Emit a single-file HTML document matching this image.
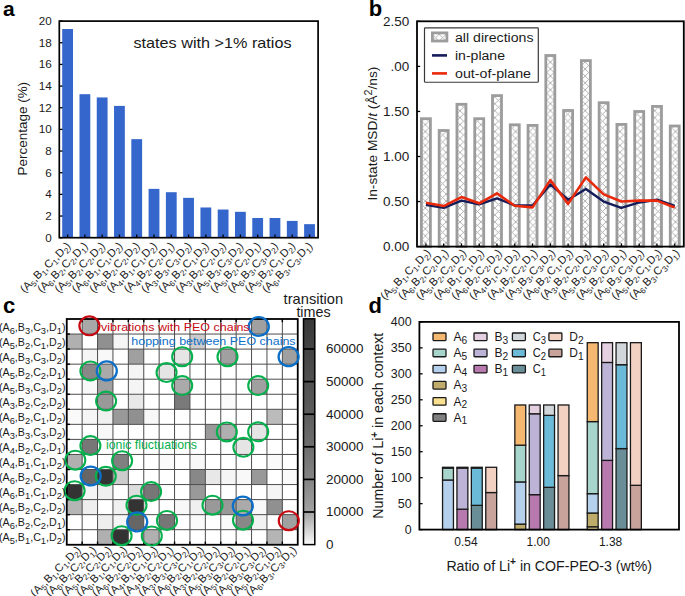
<!DOCTYPE html><html><head><meta charset="utf-8"><style>html,body{margin:0;padding:0;background:#fff;} svg{display:block;} text{font-family:"Liberation Sans", sans-serif;fill:#1a1a1a;}</style></head><body>
<svg width="685" height="596" viewBox="0 0 685 596">
<defs><pattern id="hatch" patternUnits="userSpaceOnUse" x="1.35" y="-0.5" width="6.95" height="6.95"><rect width="6.95" height="6.95" fill="#fff"/><path d="M0,0 L6.95,6.95 M6.95,0 L0,6.95 M-3.475,3.475 L3.475,10.425 M3.475,-3.475 L10.425,3.475 M3.475,-3.475 L-3.475,3.475 M10.425,3.475 L3.475,10.425" stroke="#a9a9a9" stroke-width="0.9" fill="none"/></pattern><linearGradient id="cbar" x1="0" y1="1" x2="0" y2="0"><stop offset="0" stop-color="#fafafa"/><stop offset="0.144" stop-color="#a2a2a2"/><stop offset="0.289" stop-color="#848484"/><stop offset="0.433" stop-color="#6e6e6e"/><stop offset="0.577" stop-color="#5d5d5d"/><stop offset="0.722" stop-color="#505050"/><stop offset="0.866" stop-color="#444444"/><stop offset="1" stop-color="#383838"/></linearGradient></defs>
<rect width="685" height="596" fill="#fff"/>
<rect x="62.20" y="29.01" width="10.8" height="208.69" fill="#3466cc"/>
<rect x="79.48" y="94.20" width="10.8" height="143.50" fill="#3466cc"/>
<rect x="96.76" y="97.45" width="10.8" height="140.25" fill="#3466cc"/>
<rect x="114.04" y="105.90" width="10.8" height="131.80" fill="#3466cc"/>
<rect x="131.32" y="139.15" width="10.8" height="98.55" fill="#3466cc"/>
<rect x="148.60" y="188.86" width="10.8" height="48.84" fill="#3466cc"/>
<rect x="165.88" y="192.21" width="10.8" height="45.49" fill="#3466cc"/>
<rect x="183.16" y="197.85" width="10.8" height="39.85" fill="#3466cc"/>
<rect x="200.44" y="207.48" width="10.8" height="30.22" fill="#3466cc"/>
<rect x="217.72" y="209.54" width="10.8" height="28.16" fill="#3466cc"/>
<rect x="235.00" y="211.82" width="10.8" height="25.88" fill="#3466cc"/>
<rect x="252.28" y="217.99" width="10.8" height="19.71" fill="#3466cc"/>
<rect x="269.56" y="217.99" width="10.8" height="19.71" fill="#3466cc"/>
<rect x="286.84" y="220.91" width="10.8" height="16.79" fill="#3466cc"/>
<rect x="304.12" y="224.16" width="10.8" height="13.54" fill="#3466cc"/>
<rect x="59.3" y="21.1" width="258.80" height="216.60" fill="none" stroke="#000" stroke-width="1.7"/>
<line x1="59.3" y1="237.70" x2="62.5" y2="237.70" stroke="#000" stroke-width="1.3"/>
<text x="51.85" y="241.60" text-anchor="end" font-size="10.8" textLength="6.5" lengthAdjust="spacingAndGlyphs">0</text>
<line x1="59.3" y1="216.04" x2="62.5" y2="216.04" stroke="#000" stroke-width="1.3"/>
<text x="51.85" y="219.94" text-anchor="end" font-size="10.8" textLength="6.5" lengthAdjust="spacingAndGlyphs">2</text>
<line x1="59.3" y1="194.38" x2="62.5" y2="194.38" stroke="#000" stroke-width="1.3"/>
<text x="51.85" y="198.28" text-anchor="end" font-size="10.8" textLength="6.5" lengthAdjust="spacingAndGlyphs">4</text>
<line x1="59.3" y1="172.72" x2="62.5" y2="172.72" stroke="#000" stroke-width="1.3"/>
<text x="51.85" y="176.62" text-anchor="end" font-size="10.8" textLength="6.5" lengthAdjust="spacingAndGlyphs">6</text>
<line x1="59.3" y1="151.06" x2="62.5" y2="151.06" stroke="#000" stroke-width="1.3"/>
<text x="51.85" y="154.96" text-anchor="end" font-size="10.8" textLength="6.5" lengthAdjust="spacingAndGlyphs">8</text>
<line x1="59.3" y1="129.40" x2="62.5" y2="129.40" stroke="#000" stroke-width="1.3"/>
<text x="51.85" y="133.30" text-anchor="end" font-size="10.8" textLength="13.0" lengthAdjust="spacingAndGlyphs">10</text>
<line x1="59.3" y1="107.74" x2="62.5" y2="107.74" stroke="#000" stroke-width="1.3"/>
<text x="51.85" y="111.64" text-anchor="end" font-size="10.8" textLength="13.0" lengthAdjust="spacingAndGlyphs">12</text>
<line x1="59.3" y1="86.08" x2="62.5" y2="86.08" stroke="#000" stroke-width="1.3"/>
<text x="51.85" y="89.98" text-anchor="end" font-size="10.8" textLength="13.0" lengthAdjust="spacingAndGlyphs">14</text>
<line x1="59.3" y1="64.42" x2="62.5" y2="64.42" stroke="#000" stroke-width="1.3"/>
<text x="51.85" y="68.32" text-anchor="end" font-size="10.8" textLength="13.0" lengthAdjust="spacingAndGlyphs">16</text>
<line x1="59.3" y1="42.76" x2="62.5" y2="42.76" stroke="#000" stroke-width="1.3"/>
<text x="51.85" y="46.66" text-anchor="end" font-size="10.8" textLength="13.0" lengthAdjust="spacingAndGlyphs">18</text>
<line x1="59.3" y1="21.10" x2="62.5" y2="21.10" stroke="#000" stroke-width="1.3"/>
<text x="51.85" y="25.00" text-anchor="end" font-size="10.8" textLength="13.0" lengthAdjust="spacingAndGlyphs">20</text>
<line x1="67.60" y1="237.7" x2="67.60" y2="234.5" stroke="#000" stroke-width="1.3"/>
<line x1="84.88" y1="237.7" x2="84.88" y2="234.5" stroke="#000" stroke-width="1.3"/>
<line x1="102.16" y1="237.7" x2="102.16" y2="234.5" stroke="#000" stroke-width="1.3"/>
<line x1="119.44" y1="237.7" x2="119.44" y2="234.5" stroke="#000" stroke-width="1.3"/>
<line x1="136.72" y1="237.7" x2="136.72" y2="234.5" stroke="#000" stroke-width="1.3"/>
<line x1="154.00" y1="237.7" x2="154.00" y2="234.5" stroke="#000" stroke-width="1.3"/>
<line x1="171.28" y1="237.7" x2="171.28" y2="234.5" stroke="#000" stroke-width="1.3"/>
<line x1="188.56" y1="237.7" x2="188.56" y2="234.5" stroke="#000" stroke-width="1.3"/>
<line x1="205.84" y1="237.7" x2="205.84" y2="234.5" stroke="#000" stroke-width="1.3"/>
<line x1="223.12" y1="237.7" x2="223.12" y2="234.5" stroke="#000" stroke-width="1.3"/>
<line x1="240.40" y1="237.7" x2="240.40" y2="234.5" stroke="#000" stroke-width="1.3"/>
<line x1="257.68" y1="237.7" x2="257.68" y2="234.5" stroke="#000" stroke-width="1.3"/>
<line x1="274.96" y1="237.7" x2="274.96" y2="234.5" stroke="#000" stroke-width="1.3"/>
<line x1="292.24" y1="237.7" x2="292.24" y2="234.5" stroke="#000" stroke-width="1.3"/>
<line x1="309.52" y1="237.7" x2="309.52" y2="234.5" stroke="#000" stroke-width="1.3"/>
<text x="133.5" y="48.4" font-size="15" textLength="158" lengthAdjust="spacingAndGlyphs">states with &gt;1% ratios</text>
<text transform="translate(26.5,175.4) rotate(-90)" font-size="13.5" textLength="93.5" lengthAdjust="spacingAndGlyphs">Percentage (%)</text>
<text x="0" y="0" text-anchor="end" font-size="11.1" transform="translate(71.20,246.70) rotate(-45)" textLength="66" lengthAdjust="spacingAndGlyphs">(A<tspan font-size="8.0" dy="2.6">5</tspan><tspan dy="-2.6">,</tspan>B<tspan font-size="8.0" dy="2.6">1</tspan><tspan dy="-2.6">,</tspan>C<tspan font-size="8.0" dy="2.6">1</tspan><tspan dy="-2.6">,</tspan>D<tspan font-size="8.0" dy="2.6">2</tspan><tspan dy="-2.6">)</tspan></text>
<text x="0" y="0" text-anchor="end" font-size="11.1" transform="translate(88.48,246.70) rotate(-45)" textLength="66" lengthAdjust="spacingAndGlyphs">(A<tspan font-size="8.0" dy="2.6">6</tspan><tspan dy="-2.6">,</tspan>B<tspan font-size="8.0" dy="2.6">2</tspan><tspan dy="-2.6">,</tspan>C<tspan font-size="8.0" dy="2.6">2</tspan><tspan dy="-2.6">,</tspan>D<tspan font-size="8.0" dy="2.6">1</tspan><tspan dy="-2.6">)</tspan></text>
<text x="0" y="0" text-anchor="end" font-size="11.1" transform="translate(105.76,246.70) rotate(-45)" textLength="66" lengthAdjust="spacingAndGlyphs">(A<tspan font-size="8.0" dy="2.6">5</tspan><tspan dy="-2.6">,</tspan>B<tspan font-size="8.0" dy="2.6">2</tspan><tspan dy="-2.6">,</tspan>C<tspan font-size="8.0" dy="2.6">2</tspan><tspan dy="-2.6">,</tspan>D<tspan font-size="8.0" dy="2.6">2</tspan><tspan dy="-2.6">)</tspan></text>
<text x="0" y="0" text-anchor="end" font-size="11.1" transform="translate(123.04,246.70) rotate(-45)" textLength="66" lengthAdjust="spacingAndGlyphs">(A<tspan font-size="8.0" dy="2.6">6</tspan><tspan dy="-2.6">,</tspan>B<tspan font-size="8.0" dy="2.6">1</tspan><tspan dy="-2.6">,</tspan>C<tspan font-size="8.0" dy="2.6">1</tspan><tspan dy="-2.6">,</tspan>D<tspan font-size="8.0" dy="2.6">2</tspan><tspan dy="-2.6">)</tspan></text>
<text x="0" y="0" text-anchor="end" font-size="11.1" transform="translate(140.32,246.70) rotate(-45)" textLength="66" lengthAdjust="spacingAndGlyphs">(A<tspan font-size="8.0" dy="2.6">6</tspan><tspan dy="-2.6">,</tspan>B<tspan font-size="8.0" dy="2.6">2</tspan><tspan dy="-2.6">,</tspan>C<tspan font-size="8.0" dy="2.6">2</tspan><tspan dy="-2.6">,</tspan>D<tspan font-size="8.0" dy="2.6">2</tspan><tspan dy="-2.6">)</tspan></text>
<text x="0" y="0" text-anchor="end" font-size="11.1" transform="translate(157.60,246.70) rotate(-45)" textLength="66" lengthAdjust="spacingAndGlyphs">(A<tspan font-size="8.0" dy="2.6">4</tspan><tspan dy="-2.6">,</tspan>B<tspan font-size="8.0" dy="2.6">1</tspan><tspan dy="-2.6">,</tspan>C<tspan font-size="8.0" dy="2.6">1</tspan><tspan dy="-2.6">,</tspan>D<tspan font-size="8.0" dy="2.6">2</tspan><tspan dy="-2.6">)</tspan></text>
<text x="0" y="0" text-anchor="end" font-size="11.1" transform="translate(174.88,246.70) rotate(-45)" textLength="66" lengthAdjust="spacingAndGlyphs">(A<tspan font-size="8.0" dy="2.6">4</tspan><tspan dy="-2.6">,</tspan>B<tspan font-size="8.0" dy="2.6">2</tspan><tspan dy="-2.6">,</tspan>C<tspan font-size="8.0" dy="2.6">2</tspan><tspan dy="-2.6">,</tspan>D<tspan font-size="8.0" dy="2.6">1</tspan><tspan dy="-2.6">)</tspan></text>
<text x="0" y="0" text-anchor="end" font-size="11.1" transform="translate(192.16,246.70) rotate(-45)" textLength="66" lengthAdjust="spacingAndGlyphs">(A<tspan font-size="8.0" dy="2.6">3</tspan><tspan dy="-2.6">,</tspan>B<tspan font-size="8.0" dy="2.6">3</tspan><tspan dy="-2.6">,</tspan>C<tspan font-size="8.0" dy="2.6">3</tspan><tspan dy="-2.6">,</tspan>D<tspan font-size="8.0" dy="2.6">2</tspan><tspan dy="-2.6">)</tspan></text>
<text x="0" y="0" text-anchor="end" font-size="11.1" transform="translate(209.44,246.70) rotate(-45)" textLength="66" lengthAdjust="spacingAndGlyphs">(A<tspan font-size="8.0" dy="2.6">6</tspan><tspan dy="-2.6">,</tspan>B<tspan font-size="8.0" dy="2.6">2</tspan><tspan dy="-2.6">,</tspan>C<tspan font-size="8.0" dy="2.6">1</tspan><tspan dy="-2.6">,</tspan>D<tspan font-size="8.0" dy="2.6">2</tspan><tspan dy="-2.6">)</tspan></text>
<text x="0" y="0" text-anchor="end" font-size="11.1" transform="translate(226.72,246.70) rotate(-45)" textLength="66" lengthAdjust="spacingAndGlyphs">(A<tspan font-size="8.0" dy="2.6">3</tspan><tspan dy="-2.6">,</tspan>B<tspan font-size="8.0" dy="2.6">2</tspan><tspan dy="-2.6">,</tspan>C<tspan font-size="8.0" dy="2.6">2</tspan><tspan dy="-2.6">,</tspan>D<tspan font-size="8.0" dy="2.6">2</tspan><tspan dy="-2.6">)</tspan></text>
<text x="0" y="0" text-anchor="end" font-size="11.1" transform="translate(244.00,246.70) rotate(-45)" textLength="66" lengthAdjust="spacingAndGlyphs">(A<tspan font-size="8.0" dy="2.6">5</tspan><tspan dy="-2.6">,</tspan>B<tspan font-size="8.0" dy="2.6">3</tspan><tspan dy="-2.6">,</tspan>C<tspan font-size="8.0" dy="2.6">3</tspan><tspan dy="-2.6">,</tspan>D<tspan font-size="8.0" dy="2.6">2</tspan><tspan dy="-2.6">)</tspan></text>
<text x="0" y="0" text-anchor="end" font-size="11.1" transform="translate(261.28,246.70) rotate(-45)" textLength="66" lengthAdjust="spacingAndGlyphs">(A<tspan font-size="8.0" dy="2.6">5</tspan><tspan dy="-2.6">,</tspan>B<tspan font-size="8.0" dy="2.6">2</tspan><tspan dy="-2.6">,</tspan>C<tspan font-size="8.0" dy="2.6">2</tspan><tspan dy="-2.6">,</tspan>D<tspan font-size="8.0" dy="2.6">1</tspan><tspan dy="-2.6">)</tspan></text>
<text x="0" y="0" text-anchor="end" font-size="11.1" transform="translate(278.56,246.70) rotate(-45)" textLength="66" lengthAdjust="spacingAndGlyphs">(A<tspan font-size="8.0" dy="2.6">6</tspan><tspan dy="-2.6">,</tspan>B<tspan font-size="8.0" dy="2.6">3</tspan><tspan dy="-2.6">,</tspan>C<tspan font-size="8.0" dy="2.6">3</tspan><tspan dy="-2.6">,</tspan>D<tspan font-size="8.0" dy="2.6">2</tspan><tspan dy="-2.6">)</tspan></text>
<text x="0" y="0" text-anchor="end" font-size="11.1" transform="translate(295.84,246.70) rotate(-45)" textLength="66" lengthAdjust="spacingAndGlyphs">(A<tspan font-size="8.0" dy="2.6">5</tspan><tspan dy="-2.6">,</tspan>B<tspan font-size="8.0" dy="2.6">2</tspan><tspan dy="-2.6">,</tspan>C<tspan font-size="8.0" dy="2.6">1</tspan><tspan dy="-2.6">,</tspan>D<tspan font-size="8.0" dy="2.6">2</tspan><tspan dy="-2.6">)</tspan></text>
<text x="0" y="0" text-anchor="end" font-size="11.1" transform="translate(313.12,246.70) rotate(-45)" textLength="66" lengthAdjust="spacingAndGlyphs">(A<tspan font-size="8.0" dy="2.6">6</tspan><tspan dy="-2.6">,</tspan>B<tspan font-size="8.0" dy="2.6">3</tspan><tspan dy="-2.6">,</tspan>C<tspan font-size="8.0" dy="2.6">3</tspan><tspan dy="-2.6">,</tspan>D<tspan font-size="8.0" dy="2.6">1</tspan><tspan dy="-2.6">)</tspan></text>
<text x="3.1" y="16" font-size="21" font-weight="bold" style="fill:#000">a</text>
<rect x="421.40" y="118.70" width="9" height="127.90" fill="url(#hatch)" stroke="#9c9c9c" stroke-width="2.8"/>
<rect x="439.17" y="130.50" width="9" height="116.10" fill="url(#hatch)" stroke="#9c9c9c" stroke-width="2.8"/>
<rect x="456.95" y="104.30" width="9" height="142.30" fill="url(#hatch)" stroke="#9c9c9c" stroke-width="2.8"/>
<rect x="474.72" y="118.70" width="9" height="127.90" fill="url(#hatch)" stroke="#9c9c9c" stroke-width="2.8"/>
<rect x="492.50" y="95.60" width="9" height="151.00" fill="url(#hatch)" stroke="#9c9c9c" stroke-width="2.8"/>
<rect x="510.27" y="124.80" width="9" height="121.80" fill="url(#hatch)" stroke="#9c9c9c" stroke-width="2.8"/>
<rect x="528.05" y="125.40" width="9" height="121.20" fill="url(#hatch)" stroke="#9c9c9c" stroke-width="2.8"/>
<rect x="545.82" y="55.50" width="9" height="191.10" fill="url(#hatch)" stroke="#9c9c9c" stroke-width="2.8"/>
<rect x="563.60" y="110.50" width="9" height="136.10" fill="url(#hatch)" stroke="#9c9c9c" stroke-width="2.8"/>
<rect x="581.38" y="60.60" width="9" height="186.00" fill="url(#hatch)" stroke="#9c9c9c" stroke-width="2.8"/>
<rect x="599.15" y="102.70" width="9" height="143.90" fill="url(#hatch)" stroke="#9c9c9c" stroke-width="2.8"/>
<rect x="616.92" y="124.40" width="9" height="122.20" fill="url(#hatch)" stroke="#9c9c9c" stroke-width="2.8"/>
<rect x="634.70" y="111.50" width="9" height="135.10" fill="url(#hatch)" stroke="#9c9c9c" stroke-width="2.8"/>
<rect x="652.47" y="106.40" width="9" height="140.20" fill="url(#hatch)" stroke="#9c9c9c" stroke-width="2.8"/>
<rect x="670.25" y="126.00" width="9" height="120.60" fill="url(#hatch)" stroke="#9c9c9c" stroke-width="2.8"/>
<polyline points="425.90,204.88 443.67,207.86 461.45,200.65 479.22,204.25 497.00,198.40 514.77,205.42 532.55,205.42 550.32,184.43 568.10,199.75 585.88,188.94 603.65,201.55 621.42,207.86 639.20,202.45 656.97,199.75 674.75,205.78" fill="none" stroke="#141c5a" stroke-width="2.4" stroke-linejoin="round"/>
<polyline points="425.90,202.81 443.67,206.06 461.45,197.04 479.22,203.35 497.00,193.44 514.77,205.78 532.55,207.41 550.32,180.11 568.10,203.89 585.88,177.40 603.65,194.34 621.42,201.55 639.20,200.65 656.97,200.65 674.75,207.41" fill="none" stroke="#e8290b" stroke-width="2.6" stroke-linejoin="round"/>
<rect x="417.0" y="21.3" width="266.80" height="225.30" fill="none" stroke="#000" stroke-width="1.8"/>
<line x1="417.0" y1="246.60" x2="420.2" y2="246.60" stroke="#000" stroke-width="1.3"/>
<text x="409.3" y="251.40" text-anchor="end" font-size="13.1" textLength="26.3" lengthAdjust="spacingAndGlyphs">0.00</text>
<line x1="417.0" y1="201.55" x2="420.2" y2="201.55" stroke="#000" stroke-width="1.3"/>
<text x="409.3" y="206.35" text-anchor="end" font-size="13.1" textLength="26.3" lengthAdjust="spacingAndGlyphs">0.50</text>
<line x1="417.0" y1="156.50" x2="420.2" y2="156.50" stroke="#000" stroke-width="1.3"/>
<text x="409.3" y="161.30" text-anchor="end" font-size="13.1" textLength="26.3" lengthAdjust="spacingAndGlyphs">1.00</text>
<line x1="417.0" y1="111.45" x2="420.2" y2="111.45" stroke="#000" stroke-width="1.3"/>
<text x="409.3" y="116.25" text-anchor="end" font-size="13.1" textLength="26.3" lengthAdjust="spacingAndGlyphs">1.50</text>
<line x1="417.0" y1="66.40" x2="420.2" y2="66.40" stroke="#000" stroke-width="1.3"/>
<text x="409.3" y="71.20" text-anchor="end" font-size="13.1" textLength="18.7" lengthAdjust="spacingAndGlyphs">.00</text>
<line x1="417.0" y1="21.35" x2="420.2" y2="21.35" stroke="#000" stroke-width="1.3"/>
<text x="409.3" y="26.15" text-anchor="end" font-size="13.1" textLength="26.3" lengthAdjust="spacingAndGlyphs">2.50</text>
<line x1="425.90" y1="246.6" x2="425.90" y2="243.4" stroke="#000" stroke-width="1.3"/>
<line x1="443.67" y1="246.6" x2="443.67" y2="243.4" stroke="#000" stroke-width="1.3"/>
<line x1="461.45" y1="246.6" x2="461.45" y2="243.4" stroke="#000" stroke-width="1.3"/>
<line x1="479.22" y1="246.6" x2="479.22" y2="243.4" stroke="#000" stroke-width="1.3"/>
<line x1="497.00" y1="246.6" x2="497.00" y2="243.4" stroke="#000" stroke-width="1.3"/>
<line x1="514.77" y1="246.6" x2="514.77" y2="243.4" stroke="#000" stroke-width="1.3"/>
<line x1="532.55" y1="246.6" x2="532.55" y2="243.4" stroke="#000" stroke-width="1.3"/>
<line x1="550.32" y1="246.6" x2="550.32" y2="243.4" stroke="#000" stroke-width="1.3"/>
<line x1="568.10" y1="246.6" x2="568.10" y2="243.4" stroke="#000" stroke-width="1.3"/>
<line x1="585.88" y1="246.6" x2="585.88" y2="243.4" stroke="#000" stroke-width="1.3"/>
<line x1="603.65" y1="246.6" x2="603.65" y2="243.4" stroke="#000" stroke-width="1.3"/>
<line x1="621.42" y1="246.6" x2="621.42" y2="243.4" stroke="#000" stroke-width="1.3"/>
<line x1="639.20" y1="246.6" x2="639.20" y2="243.4" stroke="#000" stroke-width="1.3"/>
<line x1="656.97" y1="246.6" x2="656.97" y2="243.4" stroke="#000" stroke-width="1.3"/>
<line x1="674.75" y1="246.6" x2="674.75" y2="243.4" stroke="#000" stroke-width="1.3"/>
<rect x="424.5" y="27.95" width="113.8" height="54.3" rx="0.8" fill="#fff" stroke="#383838" stroke-width="1.2"/>
<rect x="432.4" y="32.9" width="14.5" height="8.1" fill="url(#hatch)" stroke="#9c9c9c" stroke-width="2.8"/>
<line x1="432" y1="55.4" x2="447" y2="55.4" stroke="#141c5a" stroke-width="2.6"/>
<line x1="432" y1="73.4" x2="447" y2="73.4" stroke="#e8290b" stroke-width="2.6"/>
<text x="455" y="41.5" font-size="12" textLength="78.5" lengthAdjust="spacingAndGlyphs">all directions</text>
<text x="455" y="60.2" font-size="12" textLength="50" lengthAdjust="spacingAndGlyphs">in-plane</text>
<text x="455" y="77.7" font-size="12" textLength="76" lengthAdjust="spacingAndGlyphs">out-of-plane</text>
<text transform="translate(376.6,200.6) rotate(-90)" font-size="13.4" textLength="134" lengthAdjust="spacingAndGlyphs">In-state MSD/<tspan font-style="italic">t</tspan> (Å<tspan font-size="10.5" dy="-5">2</tspan><tspan dy="5">/ns)</tspan></text>
<text x="0" y="0" text-anchor="end" font-size="11.1" transform="translate(431.40,253.70) rotate(-45)" textLength="66" lengthAdjust="spacingAndGlyphs">(A<tspan font-size="8.0" dy="2.6">5</tspan><tspan dy="-2.6">,</tspan>B<tspan font-size="8.0" dy="2.6">1</tspan><tspan dy="-2.6">,</tspan>C<tspan font-size="8.0" dy="2.6">1</tspan><tspan dy="-2.6">,</tspan>D<tspan font-size="8.0" dy="2.6">2</tspan><tspan dy="-2.6">)</tspan></text>
<text x="0" y="0" text-anchor="end" font-size="11.1" transform="translate(449.17,253.70) rotate(-45)" textLength="66" lengthAdjust="spacingAndGlyphs">(A<tspan font-size="8.0" dy="2.6">6</tspan><tspan dy="-2.6">,</tspan>B<tspan font-size="8.0" dy="2.6">2</tspan><tspan dy="-2.6">,</tspan>C<tspan font-size="8.0" dy="2.6">2</tspan><tspan dy="-2.6">,</tspan>D<tspan font-size="8.0" dy="2.6">1</tspan><tspan dy="-2.6">)</tspan></text>
<text x="0" y="0" text-anchor="end" font-size="11.1" transform="translate(466.95,253.70) rotate(-45)" textLength="66" lengthAdjust="spacingAndGlyphs">(A<tspan font-size="8.0" dy="2.6">5</tspan><tspan dy="-2.6">,</tspan>B<tspan font-size="8.0" dy="2.6">2</tspan><tspan dy="-2.6">,</tspan>C<tspan font-size="8.0" dy="2.6">2</tspan><tspan dy="-2.6">,</tspan>D<tspan font-size="8.0" dy="2.6">2</tspan><tspan dy="-2.6">)</tspan></text>
<text x="0" y="0" text-anchor="end" font-size="11.1" transform="translate(484.72,253.70) rotate(-45)" textLength="66" lengthAdjust="spacingAndGlyphs">(A<tspan font-size="8.0" dy="2.6">6</tspan><tspan dy="-2.6">,</tspan>B<tspan font-size="8.0" dy="2.6">1</tspan><tspan dy="-2.6">,</tspan>C<tspan font-size="8.0" dy="2.6">1</tspan><tspan dy="-2.6">,</tspan>D<tspan font-size="8.0" dy="2.6">2</tspan><tspan dy="-2.6">)</tspan></text>
<text x="0" y="0" text-anchor="end" font-size="11.1" transform="translate(502.50,253.70) rotate(-45)" textLength="66" lengthAdjust="spacingAndGlyphs">(A<tspan font-size="8.0" dy="2.6">6</tspan><tspan dy="-2.6">,</tspan>B<tspan font-size="8.0" dy="2.6">2</tspan><tspan dy="-2.6">,</tspan>C<tspan font-size="8.0" dy="2.6">2</tspan><tspan dy="-2.6">,</tspan>D<tspan font-size="8.0" dy="2.6">2</tspan><tspan dy="-2.6">)</tspan></text>
<text x="0" y="0" text-anchor="end" font-size="11.1" transform="translate(520.27,253.70) rotate(-45)" textLength="66" lengthAdjust="spacingAndGlyphs">(A<tspan font-size="8.0" dy="2.6">4</tspan><tspan dy="-2.6">,</tspan>B<tspan font-size="8.0" dy="2.6">1</tspan><tspan dy="-2.6">,</tspan>C<tspan font-size="8.0" dy="2.6">1</tspan><tspan dy="-2.6">,</tspan>D<tspan font-size="8.0" dy="2.6">2</tspan><tspan dy="-2.6">)</tspan></text>
<text x="0" y="0" text-anchor="end" font-size="11.1" transform="translate(538.05,253.70) rotate(-45)" textLength="66" lengthAdjust="spacingAndGlyphs">(A<tspan font-size="8.0" dy="2.6">4</tspan><tspan dy="-2.6">,</tspan>B<tspan font-size="8.0" dy="2.6">2</tspan><tspan dy="-2.6">,</tspan>C<tspan font-size="8.0" dy="2.6">2</tspan><tspan dy="-2.6">,</tspan>D<tspan font-size="8.0" dy="2.6">1</tspan><tspan dy="-2.6">)</tspan></text>
<text x="0" y="0" text-anchor="end" font-size="11.1" transform="translate(555.82,253.70) rotate(-45)" textLength="66" lengthAdjust="spacingAndGlyphs">(A<tspan font-size="8.0" dy="2.6">3</tspan><tspan dy="-2.6">,</tspan>B<tspan font-size="8.0" dy="2.6">3</tspan><tspan dy="-2.6">,</tspan>C<tspan font-size="8.0" dy="2.6">3</tspan><tspan dy="-2.6">,</tspan>D<tspan font-size="8.0" dy="2.6">2</tspan><tspan dy="-2.6">)</tspan></text>
<text x="0" y="0" text-anchor="end" font-size="11.1" transform="translate(573.60,253.70) rotate(-45)" textLength="66" lengthAdjust="spacingAndGlyphs">(A<tspan font-size="8.0" dy="2.6">6</tspan><tspan dy="-2.6">,</tspan>B<tspan font-size="8.0" dy="2.6">2</tspan><tspan dy="-2.6">,</tspan>C<tspan font-size="8.0" dy="2.6">1</tspan><tspan dy="-2.6">,</tspan>D<tspan font-size="8.0" dy="2.6">2</tspan><tspan dy="-2.6">)</tspan></text>
<text x="0" y="0" text-anchor="end" font-size="11.1" transform="translate(591.38,253.70) rotate(-45)" textLength="66" lengthAdjust="spacingAndGlyphs">(A<tspan font-size="8.0" dy="2.6">3</tspan><tspan dy="-2.6">,</tspan>B<tspan font-size="8.0" dy="2.6">2</tspan><tspan dy="-2.6">,</tspan>C<tspan font-size="8.0" dy="2.6">2</tspan><tspan dy="-2.6">,</tspan>D<tspan font-size="8.0" dy="2.6">2</tspan><tspan dy="-2.6">)</tspan></text>
<text x="0" y="0" text-anchor="end" font-size="11.1" transform="translate(609.15,253.70) rotate(-45)" textLength="66" lengthAdjust="spacingAndGlyphs">(A<tspan font-size="8.0" dy="2.6">5</tspan><tspan dy="-2.6">,</tspan>B<tspan font-size="8.0" dy="2.6">3</tspan><tspan dy="-2.6">,</tspan>C<tspan font-size="8.0" dy="2.6">3</tspan><tspan dy="-2.6">,</tspan>D<tspan font-size="8.0" dy="2.6">2</tspan><tspan dy="-2.6">)</tspan></text>
<text x="0" y="0" text-anchor="end" font-size="11.1" transform="translate(626.92,253.70) rotate(-45)" textLength="66" lengthAdjust="spacingAndGlyphs">(A<tspan font-size="8.0" dy="2.6">5</tspan><tspan dy="-2.6">,</tspan>B<tspan font-size="8.0" dy="2.6">2</tspan><tspan dy="-2.6">,</tspan>C<tspan font-size="8.0" dy="2.6">2</tspan><tspan dy="-2.6">,</tspan>D<tspan font-size="8.0" dy="2.6">1</tspan><tspan dy="-2.6">)</tspan></text>
<text x="0" y="0" text-anchor="end" font-size="11.1" transform="translate(644.70,253.70) rotate(-45)" textLength="66" lengthAdjust="spacingAndGlyphs">(A<tspan font-size="8.0" dy="2.6">6</tspan><tspan dy="-2.6">,</tspan>B<tspan font-size="8.0" dy="2.6">3</tspan><tspan dy="-2.6">,</tspan>C<tspan font-size="8.0" dy="2.6">3</tspan><tspan dy="-2.6">,</tspan>D<tspan font-size="8.0" dy="2.6">2</tspan><tspan dy="-2.6">)</tspan></text>
<text x="0" y="0" text-anchor="end" font-size="11.1" transform="translate(662.47,253.70) rotate(-45)" textLength="66" lengthAdjust="spacingAndGlyphs">(A<tspan font-size="8.0" dy="2.6">5</tspan><tspan dy="-2.6">,</tspan>B<tspan font-size="8.0" dy="2.6">2</tspan><tspan dy="-2.6">,</tspan>C<tspan font-size="8.0" dy="2.6">1</tspan><tspan dy="-2.6">,</tspan>D<tspan font-size="8.0" dy="2.6">2</tspan><tspan dy="-2.6">)</tspan></text>
<text x="0" y="0" text-anchor="end" font-size="11.1" transform="translate(680.25,253.70) rotate(-45)" textLength="66" lengthAdjust="spacingAndGlyphs">(A<tspan font-size="8.0" dy="2.6">6</tspan><tspan dy="-2.6">,</tspan>B<tspan font-size="8.0" dy="2.6">3</tspan><tspan dy="-2.6">,</tspan>C<tspan font-size="8.0" dy="2.6">3</tspan><tspan dy="-2.6">,</tspan>D<tspan font-size="8.0" dy="2.6">1</tspan><tspan dy="-2.6">)</tspan></text>
<text x="368.7" y="16" font-size="22" font-weight="bold" style="fill:#000">b</text>
<rect x="82.15" y="319.00" width="15.40" height="15.05" fill="#a8a8a8"/>
<rect x="251.55" y="319.00" width="15.40" height="15.05" fill="#a0a0a0"/>
<rect x="66.75" y="334.05" width="15.40" height="15.05" fill="#b0b0b0"/>
<rect x="97.55" y="334.05" width="15.40" height="15.05" fill="#909090"/>
<rect x="112.95" y="334.05" width="15.40" height="15.05" fill="#f5f5f5"/>
<rect x="189.95" y="334.05" width="15.40" height="15.05" fill="#cccccc"/>
<rect x="82.15" y="349.10" width="15.40" height="15.05" fill="#f5f5f5"/>
<rect x="97.55" y="349.10" width="15.40" height="15.05" fill="#f8f8f8"/>
<rect x="128.35" y="349.10" width="15.40" height="15.05" fill="#a0a0a0"/>
<rect x="174.55" y="349.10" width="15.40" height="15.05" fill="#e5e5e5"/>
<rect x="220.75" y="349.10" width="15.40" height="15.05" fill="#a0a0a0"/>
<rect x="282.35" y="349.10" width="15.40" height="15.05" fill="#a0a0a0"/>
<rect x="82.15" y="364.15" width="15.40" height="15.05" fill="#888888"/>
<rect x="97.55" y="364.15" width="15.40" height="15.05" fill="#aaaaaa"/>
<rect x="128.35" y="364.15" width="15.40" height="15.05" fill="#f5f5f5"/>
<rect x="159.15" y="364.15" width="15.40" height="15.05" fill="#e5e5e5"/>
<rect x="82.15" y="379.20" width="15.40" height="15.05" fill="#f8f8f8"/>
<rect x="97.55" y="379.20" width="15.40" height="15.05" fill="#a0a0a0"/>
<rect x="128.35" y="379.20" width="15.40" height="15.05" fill="#f5f5f5"/>
<rect x="174.55" y="379.20" width="15.40" height="15.05" fill="#aaaaaa"/>
<rect x="251.55" y="379.20" width="15.40" height="15.05" fill="#a0a0a0"/>
<rect x="97.55" y="394.25" width="15.40" height="15.05" fill="#999999"/>
<rect x="128.35" y="394.25" width="15.40" height="15.05" fill="#e8e8e8"/>
<rect x="174.55" y="394.25" width="15.40" height="15.05" fill="#7a7a7a"/>
<rect x="220.75" y="394.25" width="15.40" height="15.05" fill="#fafafa"/>
<rect x="66.75" y="409.30" width="15.40" height="15.05" fill="#fafafa"/>
<rect x="82.15" y="409.30" width="15.40" height="15.05" fill="#f5f5f5"/>
<rect x="97.55" y="409.30" width="15.40" height="15.05" fill="#f0f0f0"/>
<rect x="112.95" y="409.30" width="15.40" height="15.05" fill="#999999"/>
<rect x="128.35" y="409.30" width="15.40" height="15.05" fill="#909090"/>
<rect x="143.75" y="409.30" width="15.40" height="15.05" fill="#f8f8f8"/>
<rect x="266.95" y="409.30" width="15.40" height="15.05" fill="#bbbbbb"/>
<rect x="97.55" y="424.35" width="15.40" height="15.05" fill="#f8f8f8"/>
<rect x="205.35" y="424.35" width="15.40" height="15.05" fill="#999999"/>
<rect x="220.75" y="424.35" width="15.40" height="15.05" fill="#b0b0b0"/>
<rect x="251.55" y="424.35" width="15.40" height="15.05" fill="#e5e5e5"/>
<rect x="82.15" y="439.40" width="15.40" height="15.05" fill="#777777"/>
<rect x="236.15" y="439.40" width="15.40" height="15.05" fill="#e5e5e5"/>
<rect x="66.75" y="454.45" width="15.40" height="15.05" fill="#b0b0b0"/>
<rect x="112.95" y="454.45" width="15.40" height="15.05" fill="#808080"/>
<rect x="159.15" y="454.45" width="15.40" height="15.05" fill="#fafafa"/>
<rect x="189.95" y="454.45" width="15.40" height="15.05" fill="#f8f8f8"/>
<rect x="266.95" y="454.45" width="15.40" height="15.05" fill="#fafafa"/>
<rect x="82.15" y="469.50" width="15.40" height="15.05" fill="#666666"/>
<rect x="97.55" y="469.50" width="15.40" height="15.05" fill="#333333"/>
<rect x="112.95" y="469.50" width="15.40" height="15.05" fill="#cccccc"/>
<rect x="189.95" y="469.50" width="15.40" height="15.05" fill="#888888"/>
<rect x="205.35" y="469.50" width="15.40" height="15.05" fill="#e8e8e8"/>
<rect x="220.75" y="469.50" width="15.40" height="15.05" fill="#f5f5f5"/>
<rect x="236.15" y="469.50" width="15.40" height="15.05" fill="#f8f8f8"/>
<rect x="251.55" y="469.50" width="15.40" height="15.05" fill="#999999"/>
<rect x="282.35" y="469.50" width="15.40" height="15.05" fill="#fafafa"/>
<rect x="66.75" y="484.55" width="15.40" height="15.05" fill="#333333"/>
<rect x="82.15" y="484.55" width="15.40" height="15.05" fill="#f5f5f5"/>
<rect x="97.55" y="484.55" width="15.40" height="15.05" fill="#f0f0f0"/>
<rect x="128.35" y="484.55" width="15.40" height="15.05" fill="#dddddd"/>
<rect x="143.75" y="484.55" width="15.40" height="15.05" fill="#777777"/>
<rect x="189.95" y="484.55" width="15.40" height="15.05" fill="#999999"/>
<rect x="266.95" y="484.55" width="15.40" height="15.05" fill="#f5f5f5"/>
<rect x="66.75" y="499.60" width="15.40" height="15.05" fill="#b5b5b5"/>
<rect x="82.15" y="499.60" width="15.40" height="15.05" fill="#eeeeee"/>
<rect x="112.95" y="499.60" width="15.40" height="15.05" fill="#f0f0f0"/>
<rect x="128.35" y="499.60" width="15.40" height="15.05" fill="#333333"/>
<rect x="174.55" y="499.60" width="15.40" height="15.05" fill="#f8f8f8"/>
<rect x="189.95" y="499.60" width="15.40" height="15.05" fill="#f0f0f0"/>
<rect x="205.35" y="499.60" width="15.40" height="15.05" fill="#999999"/>
<rect x="220.75" y="499.60" width="15.40" height="15.05" fill="#999999"/>
<rect x="236.15" y="499.60" width="15.40" height="15.05" fill="#aaaaaa"/>
<rect x="251.55" y="499.60" width="15.40" height="15.05" fill="#f8f8f8"/>
<rect x="266.95" y="499.60" width="15.40" height="15.05" fill="#909090"/>
<rect x="97.55" y="514.65" width="15.40" height="15.05" fill="#eeeeee"/>
<rect x="112.95" y="514.65" width="15.40" height="15.05" fill="#f5f5f5"/>
<rect x="128.35" y="514.65" width="15.40" height="15.05" fill="#666666"/>
<rect x="159.15" y="514.65" width="15.40" height="15.05" fill="#777777"/>
<rect x="189.95" y="514.65" width="15.40" height="15.05" fill="#fafafa"/>
<rect x="220.75" y="514.65" width="15.40" height="15.05" fill="#fafafa"/>
<rect x="236.15" y="514.65" width="15.40" height="15.05" fill="#888888"/>
<rect x="251.55" y="514.65" width="15.40" height="15.05" fill="#f2f2f2"/>
<rect x="282.35" y="514.65" width="15.40" height="15.05" fill="#a0a0a0"/>
<rect x="97.55" y="529.70" width="15.40" height="15.05" fill="#b0b0b0"/>
<rect x="112.95" y="529.70" width="15.40" height="15.05" fill="#333333"/>
<rect x="143.75" y="529.70" width="15.40" height="15.05" fill="#b0b0b0"/>
<rect x="266.95" y="529.70" width="15.40" height="15.05" fill="#b5b5b5"/>
<line x1="82.15" y1="319.0" x2="82.15" y2="544.75" stroke="#4d4d4d" stroke-width="1"/>
<line x1="66.75" y1="334.05" x2="297.75" y2="334.05" stroke="#4d4d4d" stroke-width="1"/>
<line x1="97.55" y1="319.0" x2="97.55" y2="544.75" stroke="#4d4d4d" stroke-width="1"/>
<line x1="66.75" y1="349.10" x2="297.75" y2="349.10" stroke="#4d4d4d" stroke-width="1"/>
<line x1="112.95" y1="319.0" x2="112.95" y2="544.75" stroke="#4d4d4d" stroke-width="1"/>
<line x1="66.75" y1="364.15" x2="297.75" y2="364.15" stroke="#4d4d4d" stroke-width="1"/>
<line x1="128.35" y1="319.0" x2="128.35" y2="544.75" stroke="#4d4d4d" stroke-width="1"/>
<line x1="66.75" y1="379.20" x2="297.75" y2="379.20" stroke="#4d4d4d" stroke-width="1"/>
<line x1="143.75" y1="319.0" x2="143.75" y2="544.75" stroke="#4d4d4d" stroke-width="1"/>
<line x1="66.75" y1="394.25" x2="297.75" y2="394.25" stroke="#4d4d4d" stroke-width="1"/>
<line x1="159.15" y1="319.0" x2="159.15" y2="544.75" stroke="#4d4d4d" stroke-width="1"/>
<line x1="66.75" y1="409.30" x2="297.75" y2="409.30" stroke="#4d4d4d" stroke-width="1"/>
<line x1="174.55" y1="319.0" x2="174.55" y2="544.75" stroke="#4d4d4d" stroke-width="1"/>
<line x1="66.75" y1="424.35" x2="297.75" y2="424.35" stroke="#4d4d4d" stroke-width="1"/>
<line x1="189.95" y1="319.0" x2="189.95" y2="544.75" stroke="#4d4d4d" stroke-width="1"/>
<line x1="66.75" y1="439.40" x2="297.75" y2="439.40" stroke="#4d4d4d" stroke-width="1"/>
<line x1="205.35" y1="319.0" x2="205.35" y2="544.75" stroke="#4d4d4d" stroke-width="1"/>
<line x1="66.75" y1="454.45" x2="297.75" y2="454.45" stroke="#4d4d4d" stroke-width="1"/>
<line x1="220.75" y1="319.0" x2="220.75" y2="544.75" stroke="#4d4d4d" stroke-width="1"/>
<line x1="66.75" y1="469.50" x2="297.75" y2="469.50" stroke="#4d4d4d" stroke-width="1"/>
<line x1="236.15" y1="319.0" x2="236.15" y2="544.75" stroke="#4d4d4d" stroke-width="1"/>
<line x1="66.75" y1="484.55" x2="297.75" y2="484.55" stroke="#4d4d4d" stroke-width="1"/>
<line x1="251.55" y1="319.0" x2="251.55" y2="544.75" stroke="#4d4d4d" stroke-width="1"/>
<line x1="66.75" y1="499.60" x2="297.75" y2="499.60" stroke="#4d4d4d" stroke-width="1"/>
<line x1="266.95" y1="319.0" x2="266.95" y2="544.75" stroke="#4d4d4d" stroke-width="1"/>
<line x1="66.75" y1="514.65" x2="297.75" y2="514.65" stroke="#4d4d4d" stroke-width="1"/>
<line x1="282.35" y1="319.0" x2="282.35" y2="544.75" stroke="#4d4d4d" stroke-width="1"/>
<line x1="66.75" y1="529.70" x2="297.75" y2="529.70" stroke="#4d4d4d" stroke-width="1"/>
<line x1="82.15" y1="544.75" x2="82.15" y2="541.55" stroke="#000" stroke-width="1.4"/>
<line x1="82.15" y1="319.0" x2="82.15" y2="322.2" stroke="#000" stroke-width="1.4"/>
<line x1="66.75" y1="334.05" x2="69.95" y2="334.05" stroke="#000" stroke-width="1.4"/>
<line x1="97.55" y1="544.75" x2="97.55" y2="541.55" stroke="#000" stroke-width="1.4"/>
<line x1="97.55" y1="319.0" x2="97.55" y2="322.2" stroke="#000" stroke-width="1.4"/>
<line x1="66.75" y1="349.10" x2="69.95" y2="349.10" stroke="#000" stroke-width="1.4"/>
<line x1="112.95" y1="544.75" x2="112.95" y2="541.55" stroke="#000" stroke-width="1.4"/>
<line x1="112.95" y1="319.0" x2="112.95" y2="322.2" stroke="#000" stroke-width="1.4"/>
<line x1="66.75" y1="364.15" x2="69.95" y2="364.15" stroke="#000" stroke-width="1.4"/>
<line x1="128.35" y1="544.75" x2="128.35" y2="541.55" stroke="#000" stroke-width="1.4"/>
<line x1="128.35" y1="319.0" x2="128.35" y2="322.2" stroke="#000" stroke-width="1.4"/>
<line x1="66.75" y1="379.20" x2="69.95" y2="379.20" stroke="#000" stroke-width="1.4"/>
<line x1="143.75" y1="544.75" x2="143.75" y2="541.55" stroke="#000" stroke-width="1.4"/>
<line x1="143.75" y1="319.0" x2="143.75" y2="322.2" stroke="#000" stroke-width="1.4"/>
<line x1="66.75" y1="394.25" x2="69.95" y2="394.25" stroke="#000" stroke-width="1.4"/>
<line x1="159.15" y1="544.75" x2="159.15" y2="541.55" stroke="#000" stroke-width="1.4"/>
<line x1="159.15" y1="319.0" x2="159.15" y2="322.2" stroke="#000" stroke-width="1.4"/>
<line x1="66.75" y1="409.30" x2="69.95" y2="409.30" stroke="#000" stroke-width="1.4"/>
<line x1="174.55" y1="544.75" x2="174.55" y2="541.55" stroke="#000" stroke-width="1.4"/>
<line x1="174.55" y1="319.0" x2="174.55" y2="322.2" stroke="#000" stroke-width="1.4"/>
<line x1="66.75" y1="424.35" x2="69.95" y2="424.35" stroke="#000" stroke-width="1.4"/>
<line x1="189.95" y1="544.75" x2="189.95" y2="541.55" stroke="#000" stroke-width="1.4"/>
<line x1="189.95" y1="319.0" x2="189.95" y2="322.2" stroke="#000" stroke-width="1.4"/>
<line x1="66.75" y1="439.40" x2="69.95" y2="439.40" stroke="#000" stroke-width="1.4"/>
<line x1="205.35" y1="544.75" x2="205.35" y2="541.55" stroke="#000" stroke-width="1.4"/>
<line x1="205.35" y1="319.0" x2="205.35" y2="322.2" stroke="#000" stroke-width="1.4"/>
<line x1="66.75" y1="454.45" x2="69.95" y2="454.45" stroke="#000" stroke-width="1.4"/>
<line x1="220.75" y1="544.75" x2="220.75" y2="541.55" stroke="#000" stroke-width="1.4"/>
<line x1="220.75" y1="319.0" x2="220.75" y2="322.2" stroke="#000" stroke-width="1.4"/>
<line x1="66.75" y1="469.50" x2="69.95" y2="469.50" stroke="#000" stroke-width="1.4"/>
<line x1="236.15" y1="544.75" x2="236.15" y2="541.55" stroke="#000" stroke-width="1.4"/>
<line x1="236.15" y1="319.0" x2="236.15" y2="322.2" stroke="#000" stroke-width="1.4"/>
<line x1="66.75" y1="484.55" x2="69.95" y2="484.55" stroke="#000" stroke-width="1.4"/>
<line x1="251.55" y1="544.75" x2="251.55" y2="541.55" stroke="#000" stroke-width="1.4"/>
<line x1="251.55" y1="319.0" x2="251.55" y2="322.2" stroke="#000" stroke-width="1.4"/>
<line x1="66.75" y1="499.60" x2="69.95" y2="499.60" stroke="#000" stroke-width="1.4"/>
<line x1="266.95" y1="544.75" x2="266.95" y2="541.55" stroke="#000" stroke-width="1.4"/>
<line x1="266.95" y1="319.0" x2="266.95" y2="322.2" stroke="#000" stroke-width="1.4"/>
<line x1="66.75" y1="514.65" x2="69.95" y2="514.65" stroke="#000" stroke-width="1.4"/>
<line x1="282.35" y1="544.75" x2="282.35" y2="541.55" stroke="#000" stroke-width="1.4"/>
<line x1="282.35" y1="319.0" x2="282.35" y2="322.2" stroke="#000" stroke-width="1.4"/>
<line x1="66.75" y1="529.70" x2="69.95" y2="529.70" stroke="#000" stroke-width="1.4"/>
<rect x="66.75" y="319.0" width="231.00" height="225.75" fill="none" stroke="#000" stroke-width="1.8"/>
<ellipse cx="182.2" cy="356.7" rx="10.0" ry="9.45" fill="none" stroke="#05b04d" stroke-width="2.1"/>
<ellipse cx="227.5" cy="356.7" rx="10.0" ry="9.45" fill="none" stroke="#05b04d" stroke-width="2.1"/>
<ellipse cx="90.4" cy="370.9" rx="10.0" ry="9.45" fill="none" stroke="#05b04d" stroke-width="2.1"/>
<ellipse cx="166.55" cy="372.55" rx="10.0" ry="9.45" fill="none" stroke="#05b04d" stroke-width="2.1"/>
<ellipse cx="182.2" cy="385.6" rx="10.0" ry="9.45" fill="none" stroke="#05b04d" stroke-width="2.1"/>
<ellipse cx="258.2" cy="385.6" rx="10.0" ry="9.45" fill="none" stroke="#05b04d" stroke-width="2.1"/>
<ellipse cx="106.1" cy="401.1" rx="10.0" ry="9.45" fill="none" stroke="#05b04d" stroke-width="2.1"/>
<ellipse cx="226.8" cy="431.95" rx="10.0" ry="9.45" fill="none" stroke="#05b04d" stroke-width="2.1"/>
<ellipse cx="258.2" cy="431.8" rx="10.0" ry="9.45" fill="none" stroke="#05b04d" stroke-width="2.1"/>
<ellipse cx="90.4" cy="445.6" rx="10.0" ry="9.45" fill="none" stroke="#05b04d" stroke-width="2.1"/>
<ellipse cx="243.4" cy="447.3" rx="10.0" ry="9.45" fill="none" stroke="#05b04d" stroke-width="2.1"/>
<ellipse cx="75.3" cy="460.2" rx="10.0" ry="9.45" fill="none" stroke="#05b04d" stroke-width="2.1"/>
<ellipse cx="122.1" cy="460.7" rx="10.0" ry="9.45" fill="none" stroke="#05b04d" stroke-width="2.1"/>
<ellipse cx="105.8" cy="476.3" rx="10.0" ry="9.45" fill="none" stroke="#05b04d" stroke-width="2.1"/>
<ellipse cx="74.6" cy="490.7" rx="10.0" ry="9.45" fill="none" stroke="#05b04d" stroke-width="2.1"/>
<ellipse cx="151.1" cy="491.6" rx="10.0" ry="9.45" fill="none" stroke="#05b04d" stroke-width="2.1"/>
<ellipse cx="136.5" cy="505.2" rx="10.0" ry="9.45" fill="none" stroke="#05b04d" stroke-width="2.1"/>
<ellipse cx="212.5" cy="505.2" rx="10.0" ry="9.45" fill="none" stroke="#05b04d" stroke-width="2.1"/>
<ellipse cx="167.0" cy="520.4" rx="10.0" ry="9.45" fill="none" stroke="#05b04d" stroke-width="2.1"/>
<ellipse cx="243.0" cy="520.2" rx="10.0" ry="9.45" fill="none" stroke="#05b04d" stroke-width="2.1"/>
<ellipse cx="121.6" cy="535.7" rx="10.0" ry="9.45" fill="none" stroke="#05b04d" stroke-width="2.1"/>
<ellipse cx="151.8" cy="536.0" rx="10.0" ry="9.45" fill="none" stroke="#05b04d" stroke-width="2.1"/>
<ellipse cx="258.8" cy="326.5" rx="10.0" ry="9.45" fill="none" stroke="#0c6fc8" stroke-width="2.3"/>
<ellipse cx="288.6" cy="356.65" rx="10.0" ry="9.45" fill="none" stroke="#0c6fc8" stroke-width="2.3"/>
<ellipse cx="106.8" cy="370.9" rx="10.0" ry="9.45" fill="none" stroke="#0c6fc8" stroke-width="2.3"/>
<ellipse cx="90.7" cy="476.0" rx="10.0" ry="9.45" fill="none" stroke="#0c6fc8" stroke-width="2.3"/>
<ellipse cx="242.8" cy="506.0" rx="10.0" ry="9.45" fill="none" stroke="#0c6fc8" stroke-width="2.3"/>
<ellipse cx="137.2" cy="521.9" rx="10.0" ry="9.45" fill="none" stroke="#0c6fc8" stroke-width="2.3"/>
<ellipse cx="89.4" cy="325.8" rx="10.0" ry="9.45" fill="none" stroke="#c80912" stroke-width="2.2"/>
<ellipse cx="288.8" cy="520.7" rx="10.0" ry="9.45" fill="none" stroke="#c80912" stroke-width="2.2"/>
<text x="101.0" y="330.6" font-size="10.8" style="fill:#c80912" textLength="148.6" lengthAdjust="spacingAndGlyphs">vibrations with PEO chains</text>
<text x="131.3" y="344.9" font-size="10.8" style="fill:#0c6fc8" textLength="164.3" lengthAdjust="spacingAndGlyphs">hopping between PEO chains</text>
<text x="106" y="448.5" font-size="13" style="fill:#05b04d" textLength="91" lengthAdjust="spacingAndGlyphs">ionic fluctuations</text>
<text x="65.5" y="330.72" text-anchor="end" font-size="10.3" textLength="66.5" lengthAdjust="spacingAndGlyphs">(A<tspan font-size="9.0" dy="2.9">6</tspan><tspan dy="-2.9">,</tspan>B<tspan font-size="9.0" dy="2.9">3</tspan><tspan dy="-2.9">,</tspan>C<tspan font-size="9.0" dy="2.9">3</tspan><tspan dy="-2.9">,</tspan>D<tspan font-size="9.0" dy="2.9">1</tspan><tspan dy="-2.9">)</tspan></text>
<text x="65.5" y="345.77" text-anchor="end" font-size="10.3" textLength="66.5" lengthAdjust="spacingAndGlyphs">(A<tspan font-size="9.0" dy="2.9">5</tspan><tspan dy="-2.9">,</tspan>B<tspan font-size="9.0" dy="2.9">2</tspan><tspan dy="-2.9">,</tspan>C<tspan font-size="9.0" dy="2.9">1</tspan><tspan dy="-2.9">,</tspan>D<tspan font-size="9.0" dy="2.9">2</tspan><tspan dy="-2.9">)</tspan></text>
<text x="65.5" y="360.82" text-anchor="end" font-size="10.3" textLength="66.5" lengthAdjust="spacingAndGlyphs">(A<tspan font-size="9.0" dy="2.9">6</tspan><tspan dy="-2.9">,</tspan>B<tspan font-size="9.0" dy="2.9">3</tspan><tspan dy="-2.9">,</tspan>C<tspan font-size="9.0" dy="2.9">3</tspan><tspan dy="-2.9">,</tspan>D<tspan font-size="9.0" dy="2.9">2</tspan><tspan dy="-2.9">)</tspan></text>
<text x="65.5" y="375.88" text-anchor="end" font-size="10.3" textLength="66.5" lengthAdjust="spacingAndGlyphs">(A<tspan font-size="9.0" dy="2.9">5</tspan><tspan dy="-2.9">,</tspan>B<tspan font-size="9.0" dy="2.9">2</tspan><tspan dy="-2.9">,</tspan>C<tspan font-size="9.0" dy="2.9">2</tspan><tspan dy="-2.9">,</tspan>D<tspan font-size="9.0" dy="2.9">1</tspan><tspan dy="-2.9">)</tspan></text>
<text x="65.5" y="390.93" text-anchor="end" font-size="10.3" textLength="66.5" lengthAdjust="spacingAndGlyphs">(A<tspan font-size="9.0" dy="2.9">5</tspan><tspan dy="-2.9">,</tspan>B<tspan font-size="9.0" dy="2.9">3</tspan><tspan dy="-2.9">,</tspan>C<tspan font-size="9.0" dy="2.9">3</tspan><tspan dy="-2.9">,</tspan>D<tspan font-size="9.0" dy="2.9">2</tspan><tspan dy="-2.9">)</tspan></text>
<text x="65.5" y="405.97" text-anchor="end" font-size="10.3" textLength="66.5" lengthAdjust="spacingAndGlyphs">(A<tspan font-size="9.0" dy="2.9">3</tspan><tspan dy="-2.9">,</tspan>B<tspan font-size="9.0" dy="2.9">2</tspan><tspan dy="-2.9">,</tspan>C<tspan font-size="9.0" dy="2.9">2</tspan><tspan dy="-2.9">,</tspan>D<tspan font-size="9.0" dy="2.9">2</tspan><tspan dy="-2.9">)</tspan></text>
<text x="65.5" y="421.02" text-anchor="end" font-size="10.3" textLength="66.5" lengthAdjust="spacingAndGlyphs">(A<tspan font-size="9.0" dy="2.9">6</tspan><tspan dy="-2.9">,</tspan>B<tspan font-size="9.0" dy="2.9">2</tspan><tspan dy="-2.9">,</tspan>C<tspan font-size="9.0" dy="2.9">1</tspan><tspan dy="-2.9">,</tspan>D<tspan font-size="9.0" dy="2.9">2</tspan><tspan dy="-2.9">)</tspan></text>
<text x="65.5" y="436.07" text-anchor="end" font-size="10.3" textLength="66.5" lengthAdjust="spacingAndGlyphs">(A<tspan font-size="9.0" dy="2.9">3</tspan><tspan dy="-2.9">,</tspan>B<tspan font-size="9.0" dy="2.9">3</tspan><tspan dy="-2.9">,</tspan>C<tspan font-size="9.0" dy="2.9">3</tspan><tspan dy="-2.9">,</tspan>D<tspan font-size="9.0" dy="2.9">2</tspan><tspan dy="-2.9">)</tspan></text>
<text x="65.5" y="451.12" text-anchor="end" font-size="10.3" textLength="66.5" lengthAdjust="spacingAndGlyphs">(A<tspan font-size="9.0" dy="2.9">4</tspan><tspan dy="-2.9">,</tspan>B<tspan font-size="9.0" dy="2.9">2</tspan><tspan dy="-2.9">,</tspan>C<tspan font-size="9.0" dy="2.9">2</tspan><tspan dy="-2.9">,</tspan>D<tspan font-size="9.0" dy="2.9">1</tspan><tspan dy="-2.9">)</tspan></text>
<text x="65.5" y="466.18" text-anchor="end" font-size="10.3" textLength="66.5" lengthAdjust="spacingAndGlyphs">(A<tspan font-size="9.0" dy="2.9">4</tspan><tspan dy="-2.9">,</tspan>B<tspan font-size="9.0" dy="2.9">1</tspan><tspan dy="-2.9">,</tspan>C<tspan font-size="9.0" dy="2.9">1</tspan><tspan dy="-2.9">,</tspan>D<tspan font-size="9.0" dy="2.9">2</tspan><tspan dy="-2.9">)</tspan></text>
<text x="65.5" y="481.22" text-anchor="end" font-size="10.3" textLength="66.5" lengthAdjust="spacingAndGlyphs">(A<tspan font-size="9.0" dy="2.9">6</tspan><tspan dy="-2.9">,</tspan>B<tspan font-size="9.0" dy="2.9">2</tspan><tspan dy="-2.9">,</tspan>C<tspan font-size="9.0" dy="2.9">2</tspan><tspan dy="-2.9">,</tspan>D<tspan font-size="9.0" dy="2.9">2</tspan><tspan dy="-2.9">)</tspan></text>
<text x="65.5" y="496.28" text-anchor="end" font-size="10.3" textLength="66.5" lengthAdjust="spacingAndGlyphs">(A<tspan font-size="9.0" dy="2.9">6</tspan><tspan dy="-2.9">,</tspan>B<tspan font-size="9.0" dy="2.9">1</tspan><tspan dy="-2.9">,</tspan>C<tspan font-size="9.0" dy="2.9">1</tspan><tspan dy="-2.9">,</tspan>D<tspan font-size="9.0" dy="2.9">2</tspan><tspan dy="-2.9">)</tspan></text>
<text x="65.5" y="511.32" text-anchor="end" font-size="10.3" textLength="66.5" lengthAdjust="spacingAndGlyphs">(A<tspan font-size="9.0" dy="2.9">5</tspan><tspan dy="-2.9">,</tspan>B<tspan font-size="9.0" dy="2.9">2</tspan><tspan dy="-2.9">,</tspan>C<tspan font-size="9.0" dy="2.9">2</tspan><tspan dy="-2.9">,</tspan>D<tspan font-size="9.0" dy="2.9">2</tspan><tspan dy="-2.9">)</tspan></text>
<text x="65.5" y="526.38" text-anchor="end" font-size="10.3" textLength="66.5" lengthAdjust="spacingAndGlyphs">(A<tspan font-size="9.0" dy="2.9">6</tspan><tspan dy="-2.9">,</tspan>B<tspan font-size="9.0" dy="2.9">2</tspan><tspan dy="-2.9">,</tspan>C<tspan font-size="9.0" dy="2.9">2</tspan><tspan dy="-2.9">,</tspan>D<tspan font-size="9.0" dy="2.9">1</tspan><tspan dy="-2.9">)</tspan></text>
<text x="65.5" y="541.43" text-anchor="end" font-size="10.3" textLength="66.5" lengthAdjust="spacingAndGlyphs">(A<tspan font-size="9.0" dy="2.9">5</tspan><tspan dy="-2.9">,</tspan>B<tspan font-size="9.0" dy="2.9">1</tspan><tspan dy="-2.9">,</tspan>C<tspan font-size="9.0" dy="2.9">1</tspan><tspan dy="-2.9">,</tspan>D<tspan font-size="9.0" dy="2.9">2</tspan><tspan dy="-2.9">)</tspan></text>
<text x="0" y="0" text-anchor="end" font-size="11.1" transform="translate(81.50,550.50) rotate(-45)" textLength="66" lengthAdjust="spacingAndGlyphs">(A<tspan font-size="8.0" dy="2.6">5</tspan><tspan dy="-2.6">,</tspan>B<tspan font-size="8.0" dy="2.6">1</tspan><tspan dy="-2.6">,</tspan>C<tspan font-size="8.0" dy="2.6">1</tspan><tspan dy="-2.6">,</tspan>D<tspan font-size="8.0" dy="2.6">2</tspan><tspan dy="-2.6">)</tspan></text>
<text x="0" y="0" text-anchor="end" font-size="11.1" transform="translate(96.90,550.50) rotate(-45)" textLength="66" lengthAdjust="spacingAndGlyphs">(A<tspan font-size="8.0" dy="2.6">6</tspan><tspan dy="-2.6">,</tspan>B<tspan font-size="8.0" dy="2.6">2</tspan><tspan dy="-2.6">,</tspan>C<tspan font-size="8.0" dy="2.6">2</tspan><tspan dy="-2.6">,</tspan>D<tspan font-size="8.0" dy="2.6">1</tspan><tspan dy="-2.6">)</tspan></text>
<text x="0" y="0" text-anchor="end" font-size="11.1" transform="translate(112.30,550.50) rotate(-45)" textLength="66" lengthAdjust="spacingAndGlyphs">(A<tspan font-size="8.0" dy="2.6">5</tspan><tspan dy="-2.6">,</tspan>B<tspan font-size="8.0" dy="2.6">2</tspan><tspan dy="-2.6">,</tspan>C<tspan font-size="8.0" dy="2.6">2</tspan><tspan dy="-2.6">,</tspan>D<tspan font-size="8.0" dy="2.6">2</tspan><tspan dy="-2.6">)</tspan></text>
<text x="0" y="0" text-anchor="end" font-size="11.1" transform="translate(127.70,550.50) rotate(-45)" textLength="66" lengthAdjust="spacingAndGlyphs">(A<tspan font-size="8.0" dy="2.6">6</tspan><tspan dy="-2.6">,</tspan>B<tspan font-size="8.0" dy="2.6">1</tspan><tspan dy="-2.6">,</tspan>C<tspan font-size="8.0" dy="2.6">1</tspan><tspan dy="-2.6">,</tspan>D<tspan font-size="8.0" dy="2.6">2</tspan><tspan dy="-2.6">)</tspan></text>
<text x="0" y="0" text-anchor="end" font-size="11.1" transform="translate(143.10,550.50) rotate(-45)" textLength="66" lengthAdjust="spacingAndGlyphs">(A<tspan font-size="8.0" dy="2.6">6</tspan><tspan dy="-2.6">,</tspan>B<tspan font-size="8.0" dy="2.6">2</tspan><tspan dy="-2.6">,</tspan>C<tspan font-size="8.0" dy="2.6">2</tspan><tspan dy="-2.6">,</tspan>D<tspan font-size="8.0" dy="2.6">2</tspan><tspan dy="-2.6">)</tspan></text>
<text x="0" y="0" text-anchor="end" font-size="11.1" transform="translate(158.50,550.50) rotate(-45)" textLength="66" lengthAdjust="spacingAndGlyphs">(A<tspan font-size="8.0" dy="2.6">4</tspan><tspan dy="-2.6">,</tspan>B<tspan font-size="8.0" dy="2.6">1</tspan><tspan dy="-2.6">,</tspan>C<tspan font-size="8.0" dy="2.6">1</tspan><tspan dy="-2.6">,</tspan>D<tspan font-size="8.0" dy="2.6">2</tspan><tspan dy="-2.6">)</tspan></text>
<text x="0" y="0" text-anchor="end" font-size="11.1" transform="translate(173.90,550.50) rotate(-45)" textLength="66" lengthAdjust="spacingAndGlyphs">(A<tspan font-size="8.0" dy="2.6">4</tspan><tspan dy="-2.6">,</tspan>B<tspan font-size="8.0" dy="2.6">2</tspan><tspan dy="-2.6">,</tspan>C<tspan font-size="8.0" dy="2.6">2</tspan><tspan dy="-2.6">,</tspan>D<tspan font-size="8.0" dy="2.6">1</tspan><tspan dy="-2.6">)</tspan></text>
<text x="0" y="0" text-anchor="end" font-size="11.1" transform="translate(189.30,550.50) rotate(-45)" textLength="66" lengthAdjust="spacingAndGlyphs">(A<tspan font-size="8.0" dy="2.6">3</tspan><tspan dy="-2.6">,</tspan>B<tspan font-size="8.0" dy="2.6">3</tspan><tspan dy="-2.6">,</tspan>C<tspan font-size="8.0" dy="2.6">3</tspan><tspan dy="-2.6">,</tspan>D<tspan font-size="8.0" dy="2.6">2</tspan><tspan dy="-2.6">)</tspan></text>
<text x="0" y="0" text-anchor="end" font-size="11.1" transform="translate(204.70,550.50) rotate(-45)" textLength="66" lengthAdjust="spacingAndGlyphs">(A<tspan font-size="8.0" dy="2.6">6</tspan><tspan dy="-2.6">,</tspan>B<tspan font-size="8.0" dy="2.6">2</tspan><tspan dy="-2.6">,</tspan>C<tspan font-size="8.0" dy="2.6">1</tspan><tspan dy="-2.6">,</tspan>D<tspan font-size="8.0" dy="2.6">2</tspan><tspan dy="-2.6">)</tspan></text>
<text x="0" y="0" text-anchor="end" font-size="11.1" transform="translate(220.10,550.50) rotate(-45)" textLength="66" lengthAdjust="spacingAndGlyphs">(A<tspan font-size="8.0" dy="2.6">3</tspan><tspan dy="-2.6">,</tspan>B<tspan font-size="8.0" dy="2.6">2</tspan><tspan dy="-2.6">,</tspan>C<tspan font-size="8.0" dy="2.6">2</tspan><tspan dy="-2.6">,</tspan>D<tspan font-size="8.0" dy="2.6">2</tspan><tspan dy="-2.6">)</tspan></text>
<text x="0" y="0" text-anchor="end" font-size="11.1" transform="translate(235.50,550.50) rotate(-45)" textLength="66" lengthAdjust="spacingAndGlyphs">(A<tspan font-size="8.0" dy="2.6">5</tspan><tspan dy="-2.6">,</tspan>B<tspan font-size="8.0" dy="2.6">3</tspan><tspan dy="-2.6">,</tspan>C<tspan font-size="8.0" dy="2.6">3</tspan><tspan dy="-2.6">,</tspan>D<tspan font-size="8.0" dy="2.6">2</tspan><tspan dy="-2.6">)</tspan></text>
<text x="0" y="0" text-anchor="end" font-size="11.1" transform="translate(250.90,550.50) rotate(-45)" textLength="66" lengthAdjust="spacingAndGlyphs">(A<tspan font-size="8.0" dy="2.6">5</tspan><tspan dy="-2.6">,</tspan>B<tspan font-size="8.0" dy="2.6">2</tspan><tspan dy="-2.6">,</tspan>C<tspan font-size="8.0" dy="2.6">2</tspan><tspan dy="-2.6">,</tspan>D<tspan font-size="8.0" dy="2.6">1</tspan><tspan dy="-2.6">)</tspan></text>
<text x="0" y="0" text-anchor="end" font-size="11.1" transform="translate(266.30,550.50) rotate(-45)" textLength="66" lengthAdjust="spacingAndGlyphs">(A<tspan font-size="8.0" dy="2.6">6</tspan><tspan dy="-2.6">,</tspan>B<tspan font-size="8.0" dy="2.6">3</tspan><tspan dy="-2.6">,</tspan>C<tspan font-size="8.0" dy="2.6">3</tspan><tspan dy="-2.6">,</tspan>D<tspan font-size="8.0" dy="2.6">2</tspan><tspan dy="-2.6">)</tspan></text>
<text x="0" y="0" text-anchor="end" font-size="11.1" transform="translate(281.70,550.50) rotate(-45)" textLength="66" lengthAdjust="spacingAndGlyphs">(A<tspan font-size="8.0" dy="2.6">5</tspan><tspan dy="-2.6">,</tspan>B<tspan font-size="8.0" dy="2.6">2</tspan><tspan dy="-2.6">,</tspan>C<tspan font-size="8.0" dy="2.6">1</tspan><tspan dy="-2.6">,</tspan>D<tspan font-size="8.0" dy="2.6">2</tspan><tspan dy="-2.6">)</tspan></text>
<text x="0" y="0" text-anchor="end" font-size="11.1" transform="translate(297.10,550.50) rotate(-45)" textLength="66" lengthAdjust="spacingAndGlyphs">(A<tspan font-size="8.0" dy="2.6">6</tspan><tspan dy="-2.6">,</tspan>B<tspan font-size="8.0" dy="2.6">3</tspan><tspan dy="-2.6">,</tspan>C<tspan font-size="8.0" dy="2.6">3</tspan><tspan dy="-2.6">,</tspan>D<tspan font-size="8.0" dy="2.6">1</tspan><tspan dy="-2.6">)</tspan></text>
<rect x="303.5" y="318.8" width="11.3" height="225.8" fill="url(#cbar)" stroke="#000" stroke-width="1.5"/>
<text x="326.0" y="548.90" font-size="13.3" textLength="7.5" lengthAdjust="spacingAndGlyphs">0</text>
<line x1="303.5" y1="512.00" x2="314.8" y2="512.00" stroke="#000" stroke-width="1.7"/>
<text x="326.0" y="516.30" font-size="13.3" textLength="37.5" lengthAdjust="spacingAndGlyphs">10000</text>
<line x1="303.5" y1="479.40" x2="314.8" y2="479.40" stroke="#000" stroke-width="1.7"/>
<text x="326.0" y="483.70" font-size="13.3" textLength="37.5" lengthAdjust="spacingAndGlyphs">20000</text>
<line x1="303.5" y1="446.80" x2="314.8" y2="446.80" stroke="#000" stroke-width="1.7"/>
<text x="326.0" y="451.10" font-size="13.3" textLength="37.5" lengthAdjust="spacingAndGlyphs">30000</text>
<line x1="303.5" y1="414.20" x2="314.8" y2="414.20" stroke="#000" stroke-width="1.7"/>
<text x="326.0" y="418.50" font-size="13.3" textLength="37.5" lengthAdjust="spacingAndGlyphs">40000</text>
<line x1="303.5" y1="381.60" x2="314.8" y2="381.60" stroke="#000" stroke-width="1.7"/>
<text x="326.0" y="385.90" font-size="13.3" textLength="37.5" lengthAdjust="spacingAndGlyphs">50000</text>
<line x1="303.5" y1="349.00" x2="314.8" y2="349.00" stroke="#000" stroke-width="1.7"/>
<text x="326.0" y="353.30" font-size="13.3" textLength="37.5" lengthAdjust="spacingAndGlyphs">60000</text>
<text x="283.6" y="303.9" font-size="14.5" textLength="59.6" lengthAdjust="spacingAndGlyphs">transition</text>
<text x="296.4" y="316.6" font-size="14.5" textLength="34.2" lengthAdjust="spacingAndGlyphs">times</text>
<text x="3" y="313" font-size="22" font-weight="bold" style="fill:#000">c</text>
<rect x="442.55" y="480.01" width="10.9" height="49.59" fill="#b5d0ec" stroke="#1a1a1a" stroke-width="1.3"/>
<rect x="442.55" y="468.07" width="10.9" height="11.94" fill="#a8d5cb" stroke="#1a1a1a" stroke-width="1.3"/>
<rect x="442.55" y="467.29" width="10.9" height="0.78" fill="#f5b871" stroke="#1a1a1a" stroke-width="1.3"/>
<rect x="456.95" y="509.19" width="10.9" height="20.41" fill="#b87aae" stroke="#1a1a1a" stroke-width="1.3"/>
<rect x="456.95" y="468.07" width="10.9" height="41.12" fill="#bcb3d6" stroke="#1a1a1a" stroke-width="1.3"/>
<rect x="456.95" y="467.29" width="10.9" height="0.78" fill="#e5d0e2" stroke="#1a1a1a" stroke-width="1.3"/>
<rect x="471.35" y="505.35" width="10.9" height="24.25" fill="#6a8e98" stroke="#1a1a1a" stroke-width="1.3"/>
<rect x="471.35" y="468.07" width="10.9" height="37.28" fill="#6bbad8" stroke="#1a1a1a" stroke-width="1.3"/>
<rect x="471.35" y="467.29" width="10.9" height="0.78" fill="#d0d6da" stroke="#1a1a1a" stroke-width="1.3"/>
<rect x="485.75" y="492.53" width="10.9" height="37.07" fill="#c8a39c" stroke="#1a1a1a" stroke-width="1.3"/>
<rect x="485.75" y="467.29" width="10.9" height="25.24" fill="#f2d0c2" stroke="#1a1a1a" stroke-width="1.3"/>
<rect x="514.85" y="524.10" width="10.9" height="5.50" fill="#bfab6a" stroke="#1a1a1a" stroke-width="1.3"/>
<rect x="514.85" y="481.93" width="10.9" height="42.16" fill="#b5d0ec" stroke="#1a1a1a" stroke-width="1.3"/>
<rect x="514.85" y="445.17" width="10.9" height="36.76" fill="#a8d5cb" stroke="#1a1a1a" stroke-width="1.3"/>
<rect x="514.85" y="404.98" width="10.9" height="40.19" fill="#f5b871" stroke="#1a1a1a" stroke-width="1.3"/>
<rect x="529.25" y="494.65" width="10.9" height="34.95" fill="#b87aae" stroke="#1a1a1a" stroke-width="1.3"/>
<rect x="529.25" y="413.76" width="10.9" height="80.90" fill="#bcb3d6" stroke="#1a1a1a" stroke-width="1.3"/>
<rect x="529.25" y="404.98" width="10.9" height="8.78" fill="#e5d0e2" stroke="#1a1a1a" stroke-width="1.3"/>
<rect x="543.65" y="487.33" width="10.9" height="42.27" fill="#6a8e98" stroke="#1a1a1a" stroke-width="1.3"/>
<rect x="543.65" y="415.37" width="10.9" height="71.97" fill="#6bbad8" stroke="#1a1a1a" stroke-width="1.3"/>
<rect x="543.65" y="404.98" width="10.9" height="10.38" fill="#d0d6da" stroke="#1a1a1a" stroke-width="1.3"/>
<rect x="558.05" y="475.60" width="10.9" height="54.00" fill="#c8a39c" stroke="#1a1a1a" stroke-width="1.3"/>
<rect x="558.05" y="404.98" width="10.9" height="70.62" fill="#f2d0c2" stroke="#1a1a1a" stroke-width="1.3"/>
<rect x="587.25" y="526.80" width="10.9" height="2.80" fill="#f8e08e" stroke="#1a1a1a" stroke-width="1.3"/>
<rect x="587.25" y="512.98" width="10.9" height="13.81" fill="#bfab6a" stroke="#1a1a1a" stroke-width="1.3"/>
<rect x="587.25" y="493.67" width="10.9" height="19.32" fill="#b5d0ec" stroke="#1a1a1a" stroke-width="1.3"/>
<rect x="587.25" y="421.60" width="10.9" height="72.07" fill="#a8d5cb" stroke="#1a1a1a" stroke-width="1.3"/>
<rect x="587.25" y="342.67" width="10.9" height="78.93" fill="#f5b871" stroke="#1a1a1a" stroke-width="1.3"/>
<rect x="601.65" y="460.38" width="10.9" height="69.22" fill="#b87aae" stroke="#1a1a1a" stroke-width="1.3"/>
<rect x="601.65" y="362.45" width="10.9" height="97.93" fill="#bcb3d6" stroke="#1a1a1a" stroke-width="1.3"/>
<rect x="601.65" y="342.67" width="10.9" height="19.78" fill="#e5d0e2" stroke="#1a1a1a" stroke-width="1.3"/>
<rect x="616.05" y="448.60" width="10.9" height="81.00" fill="#6a8e98" stroke="#1a1a1a" stroke-width="1.3"/>
<rect x="616.05" y="364.69" width="10.9" height="83.91" fill="#6bbad8" stroke="#1a1a1a" stroke-width="1.3"/>
<rect x="616.05" y="342.67" width="10.9" height="22.02" fill="#d0d6da" stroke="#1a1a1a" stroke-width="1.3"/>
<rect x="630.45" y="485.31" width="10.9" height="44.29" fill="#c8a39c" stroke="#1a1a1a" stroke-width="1.3"/>
<rect x="630.45" y="342.67" width="10.9" height="142.64" fill="#f2d0c2" stroke="#1a1a1a" stroke-width="1.3"/>
<rect x="419.4" y="321.9" width="259.60" height="207.70" fill="none" stroke="#000" stroke-width="1.8"/>
<line x1="419.4" y1="529.60" x2="422.59999999999997" y2="529.60" stroke="#000" stroke-width="1.3"/>
<text x="411.6" y="534.05" text-anchor="end" font-size="12.4" textLength="6.9" lengthAdjust="spacingAndGlyphs">0</text>
<line x1="419.4" y1="503.64" x2="422.59999999999997" y2="503.64" stroke="#000" stroke-width="1.3"/>
<text x="411.6" y="508.09" text-anchor="end" font-size="12.4" textLength="13.9" lengthAdjust="spacingAndGlyphs">50</text>
<line x1="419.4" y1="477.68" x2="422.59999999999997" y2="477.68" stroke="#000" stroke-width="1.3"/>
<text x="411.6" y="482.12" text-anchor="end" font-size="12.4" textLength="20.8" lengthAdjust="spacingAndGlyphs">100</text>
<line x1="419.4" y1="451.71" x2="422.59999999999997" y2="451.71" stroke="#000" stroke-width="1.3"/>
<text x="411.6" y="456.16" text-anchor="end" font-size="12.4" textLength="20.8" lengthAdjust="spacingAndGlyphs">150</text>
<line x1="419.4" y1="425.75" x2="422.59999999999997" y2="425.75" stroke="#000" stroke-width="1.3"/>
<text x="411.6" y="430.20" text-anchor="end" font-size="12.4" textLength="20.8" lengthAdjust="spacingAndGlyphs">200</text>
<line x1="419.4" y1="399.79" x2="422.59999999999997" y2="399.79" stroke="#000" stroke-width="1.3"/>
<text x="411.6" y="404.24" text-anchor="end" font-size="12.4" textLength="20.8" lengthAdjust="spacingAndGlyphs">250</text>
<line x1="419.4" y1="373.83" x2="422.59999999999997" y2="373.83" stroke="#000" stroke-width="1.3"/>
<text x="411.6" y="378.28" text-anchor="end" font-size="12.4" textLength="20.8" lengthAdjust="spacingAndGlyphs">300</text>
<line x1="419.4" y1="347.86" x2="422.59999999999997" y2="347.86" stroke="#000" stroke-width="1.3"/>
<text x="411.6" y="352.31" text-anchor="end" font-size="12.4" textLength="20.8" lengthAdjust="spacingAndGlyphs">350</text>
<line x1="419.4" y1="321.90" x2="422.59999999999997" y2="321.90" stroke="#000" stroke-width="1.3"/>
<text x="411.6" y="326.35" text-anchor="end" font-size="12.4" textLength="20.8" lengthAdjust="spacingAndGlyphs">400</text>
<text x="465.90" y="545.6" text-anchor="middle" font-size="12">0.54</text>
<text x="538.20" y="545.6" text-anchor="middle" font-size="12">1.00</text>
<text x="610.60" y="545.6" text-anchor="middle" font-size="12">1.38</text>
<rect x="433.00" y="333.00" width="13" height="7.6" rx="0.8" fill="#f5b871" stroke="#1a1a1a" stroke-width="1.3"/>
<text x="453.40" y="341.00" font-size="12">A<tspan font-size="10.2" dy="2.6">6</tspan></text>
<rect x="433.00" y="349.15" width="13" height="7.6" rx="0.8" fill="#a8d5cb" stroke="#1a1a1a" stroke-width="1.3"/>
<text x="453.40" y="357.15" font-size="12">A<tspan font-size="10.2" dy="2.6">5</tspan></text>
<rect x="433.00" y="365.30" width="13" height="7.6" rx="0.8" fill="#b5d0ec" stroke="#1a1a1a" stroke-width="1.3"/>
<text x="453.40" y="373.30" font-size="12">A<tspan font-size="10.2" dy="2.6">4</tspan></text>
<rect x="433.00" y="381.45" width="13" height="7.6" rx="0.8" fill="#bfab6a" stroke="#1a1a1a" stroke-width="1.3"/>
<text x="453.40" y="389.45" font-size="12">A<tspan font-size="10.2" dy="2.6">3</tspan></text>
<rect x="433.00" y="397.60" width="13" height="7.6" rx="0.8" fill="#f8e08e" stroke="#1a1a1a" stroke-width="1.3"/>
<text x="453.40" y="405.60" font-size="12">A<tspan font-size="10.2" dy="2.6">2</tspan></text>
<rect x="433.00" y="413.75" width="13" height="7.6" rx="0.8" fill="#808080" stroke="#1a1a1a" stroke-width="1.3"/>
<text x="453.40" y="421.75" font-size="12">A<tspan font-size="10.2" dy="2.6">1</tspan></text>
<rect x="474.00" y="333.00" width="13" height="7.6" rx="0.8" fill="#e5d0e2" stroke="#1a1a1a" stroke-width="1.3"/>
<text x="494.40" y="341.00" font-size="12">B<tspan font-size="10.2" dy="2.6">3</tspan></text>
<rect x="474.00" y="349.15" width="13" height="7.6" rx="0.8" fill="#bcb3d6" stroke="#1a1a1a" stroke-width="1.3"/>
<text x="494.40" y="357.15" font-size="12">B<tspan font-size="10.2" dy="2.6">2</tspan></text>
<rect x="474.00" y="365.30" width="13" height="7.6" rx="0.8" fill="#b87aae" stroke="#1a1a1a" stroke-width="1.3"/>
<text x="494.40" y="373.30" font-size="12">B<tspan font-size="10.2" dy="2.6">1</tspan></text>
<rect x="512.40" y="333.00" width="13" height="7.6" rx="0.8" fill="#d0d6da" stroke="#1a1a1a" stroke-width="1.3"/>
<text x="532.80" y="341.00" font-size="12" textLength="13.3" lengthAdjust="spacingAndGlyphs">C<tspan font-size="10.2" dy="2.6">3</tspan></text>
<rect x="512.40" y="349.15" width="13" height="7.6" rx="0.8" fill="#6bbad8" stroke="#1a1a1a" stroke-width="1.3"/>
<text x="532.80" y="357.15" font-size="12" textLength="13.3" lengthAdjust="spacingAndGlyphs">C<tspan font-size="10.2" dy="2.6">2</tspan></text>
<rect x="512.40" y="365.30" width="13" height="7.6" rx="0.8" fill="#6a8e98" stroke="#1a1a1a" stroke-width="1.3"/>
<text x="532.80" y="373.30" font-size="12" textLength="13.3" lengthAdjust="spacingAndGlyphs">C<tspan font-size="10.2" dy="2.6">1</tspan></text>
<rect x="548.90" y="333.00" width="13" height="7.6" rx="0.8" fill="#f2d0c2" stroke="#1a1a1a" stroke-width="1.3"/>
<text x="569.30" y="341.00" font-size="12">D<tspan font-size="10.2" dy="2.6">2</tspan></text>
<rect x="548.90" y="349.15" width="13" height="7.6" rx="0.8" fill="#c8a39c" stroke="#1a1a1a" stroke-width="1.3"/>
<text x="569.30" y="357.15" font-size="12">D<tspan font-size="10.2" dy="2.6">1</tspan></text>
<text transform="translate(383.2,518.7) rotate(-90)" font-size="14" textLength="186" lengthAdjust="spacingAndGlyphs">Number of Li<tspan font-size="10" dy="-5" font-weight="bold">+</tspan><tspan dy="5"> in each context</tspan></text>
<text x="446.4" y="570.7" font-size="14" textLength="205.6" lengthAdjust="spacingAndGlyphs">Ratio of Li<tspan font-size="10" dy="-5.5" font-weight="bold">+</tspan><tspan dy="5.5"> in COF-PEO-3 (wt%)</tspan></text>
<text x="368.4" y="313" font-size="22" font-weight="bold" style="fill:#000">d</text>
</svg></body></html>
